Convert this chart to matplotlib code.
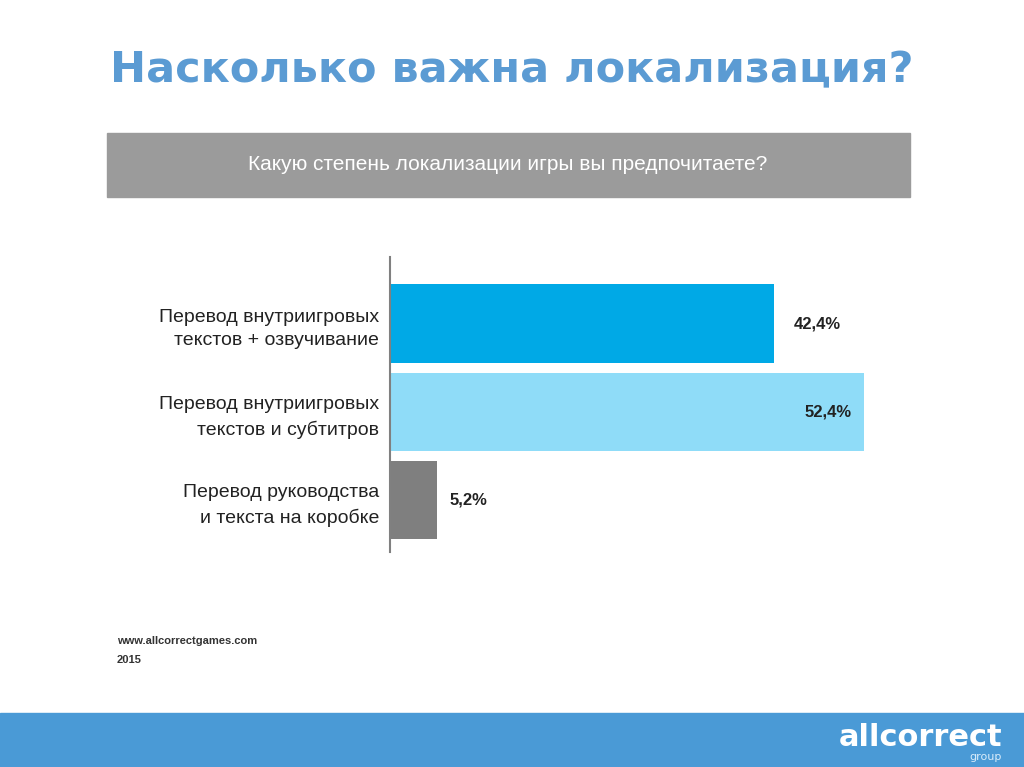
import matplotlib.pyplot as plt
from matplotlib.patches import Rectangle

# data
categories = ['Перевод внутриигровых\nтекстов + озвучивание',
              'Перевод внутриигровых\nтекстов и субтитров',
              'Перевод руководства\nи текста на коробке']
values = [42.4, 52.4, 5.2]
value_labels = ['42,4%', '52,4%', '5,2%']
colors = ['#00a9e6', '#8fdcf8', '#7f7f7f']

W, H = 1024, 767
fig = plt.figure(figsize=(W / 100, H / 100), dpi=100)
narrow = ['Liberation Sans Narrow', 'Liberation Sans', 'DejaVu Sans']


def fx(px):
    return px / W


def fy(py):
    return 1 - py / H


# title
fig.text(fx(512), fy(70), 'Насколько важна локализация?', ha='center', va='center',
         fontsize=31, fontweight='bold', color='#5b9bd3', family='DejaVu Sans')

# gray question banner
fig.patches.append(Rectangle((fx(107), fy(197)), fx(803), 64 / H, transform=fig.transFigure,
                             color='#9b9b9b', zorder=0))
fig.text(fx(508), fy(165), 'Какую степень локализации игры вы предпочитаете?', ha='center',
         va='center', fontsize=15, color='white', family=narrow)

# bar chart
px_per_unit = 9.05
x_max = 60
ax = fig.add_axes([fx(390), fy(552), x_max * px_per_unit / W, 295 / H])
y = range(len(values))
ax.barh(y, values, height=0.89, color=colors)
ax.set_xlim(0, x_max)
ax.set_ylim(2.59, -0.756)
ax.set_yticks(list(y))
ax.set_yticklabels(categories, fontsize=14, family=narrow, color='#222222', linespacing=1.5)
ax.tick_params(axis='y', length=0, pad=8)
ax.set_xticks([])
for s in ['top', 'right', 'bottom']:
    ax.spines[s].set_visible(False)
ax.spines['left'].set_color('#808080')
ax.spines['left'].set_linewidth(1.5)
ax.set_facecolor('none')

# value labels: outside for 1st and 3rd bar, inside the end of the 2nd
label_x = [values[0] + 2.2, values[1] - 1.4, values[2] + 1.4]
label_ha = ['left', 'right', 'left']
for i in range(len(values)):
    ax.text(label_x[i], i, value_labels[i], va='center', ha=label_ha[i],
            fontsize=12, fontweight='bold', color='#222222', family=narrow)

# footer source
fig.text(fx(117), fy(641), 'www.allcorrectgames.com', ha='left', va='center', fontsize=8,
         fontweight='bold', color='#333333', family=narrow)
fig.text(fx(117), fy(660), '2015', ha='left', va='center', fontsize=8,
         fontweight='bold', color='#333333', family=narrow)

# bottom band with logo
fig.patches.append(Rectangle((0, 0), 1, 54 / H, transform=fig.transFigure,
                             color='#4a9ad6', zorder=0))
fig.text(fx(1002), fy(737), 'allcorrect', ha='right', va='center', fontsize=22,
         fontweight='bold', color='white', family='DejaVu Sans')
fig.text(fx(1002), fy(757), 'group', ha='right', va='center', fontsize=8,
         color='#d8ecfa', family='DejaVu Sans')

fig.savefig('out.png', dpi=100)
